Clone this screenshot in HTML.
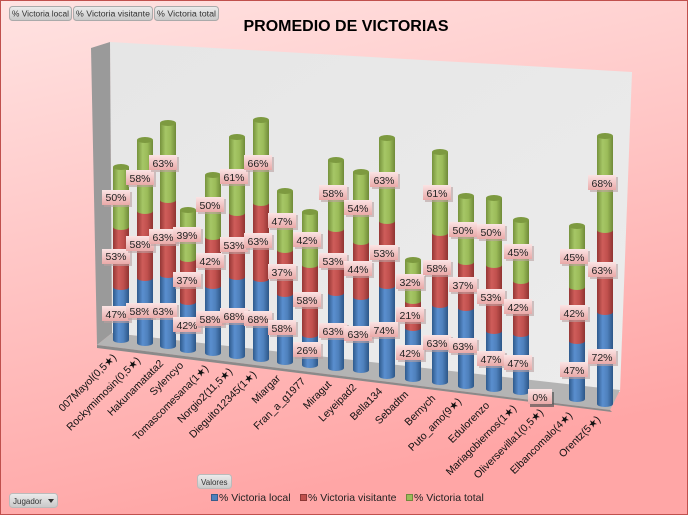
<!DOCTYPE html>
<html><head><meta charset="utf-8"><style>
html,body{margin:0;padding:0}
body{width:688px;height:515px;overflow:hidden;font-family:"Liberation Sans",sans-serif}
</style></head><body>
<svg width="688" height="515" viewBox="0 0 688 515" xmlns="http://www.w3.org/2000/svg" font-family="Liberation Sans, sans-serif">
<defs>
<linearGradient id="bg" x1="0" y1="0" x2="0.3" y2="1"><stop offset="0" stop-color="#ffe3e2"/><stop offset="1" stop-color="#ffa6a6"/></linearGradient>
<linearGradient id="wall" x1="0" y1="0" x2="1" y2="1"><stop offset="0" stop-color="#e6e6e6"/><stop offset="1" stop-color="#ececec"/></linearGradient>
<linearGradient id="gG" x1="0" x2="1"><stop offset="0" stop-color="#76923c"/><stop offset="0.35" stop-color="#a6c766"/><stop offset="0.65" stop-color="#9bbb59"/><stop offset="1" stop-color="#6f8a38"/></linearGradient>
<linearGradient id="gR" x1="0" x2="1"><stop offset="0" stop-color="#953735"/><stop offset="0.35" stop-color="#cf5d5a"/><stop offset="0.65" stop-color="#c0504d"/><stop offset="1" stop-color="#8f3432"/></linearGradient>
<linearGradient id="gB" x1="0" x2="1"><stop offset="0" stop-color="#2e5a8c"/><stop offset="0.35" stop-color="#5a8fcf"/><stop offset="0.65" stop-color="#4f81bd"/><stop offset="1" stop-color="#2c5687"/></linearGradient>
<linearGradient id="lab" x1="0" y1="0" x2="0" y2="1"><stop offset="0" stop-color="#fbe4e4"/><stop offset="1" stop-color="#e9a9a8"/></linearGradient>
<linearGradient id="btn" x1="0" y1="0" x2="0" y2="1"><stop offset="0" stop-color="#ececec"/><stop offset="1" stop-color="#c8c8c8"/></linearGradient>
</defs>
<rect x="0.5" y="0.5" width="687" height="514" fill="url(#bg)" stroke="#c0504d"/>
<g font-size="8" fill="#333">
<rect x="9.5" y="6.5" width="62" height="14" rx="3" fill="url(#btn)" stroke="#aaa"/><text x="12" y="16.5" textLength="57" lengthAdjust="spacingAndGlyphs">% Victoria local</text>
<rect x="73.5" y="6.5" width="79" height="14" rx="3" fill="url(#btn)" stroke="#aaa"/><text x="76" y="16.5" textLength="74" lengthAdjust="spacingAndGlyphs">% Victoria visitante</text>
<rect x="154.5" y="6.5" width="64" height="14" rx="3" fill="url(#btn)" stroke="#aaa"/><text x="157" y="16.5" textLength="59" lengthAdjust="spacingAndGlyphs">% Victoria total</text>
<rect x="197.5" y="474.5" width="34" height="14" rx="3" fill="url(#btn)" stroke="#bbb"/><text x="201" y="485">Valores</text>
<rect x="9.5" y="493.5" width="48" height="14" rx="3" fill="url(#btn)" stroke="#bbb"/><text x="13" y="504">Jugador</text>
<path d="M48 499 L54 499 L51 503Z" fill="#333"/>
</g>
<text x="346" y="31" font-size="16" font-weight="bold" text-anchor="middle" fill="#000">PROMEDIO DE VICTORIAS</text>
<polygon points="110,42 632,72 620,392 112,333" fill="url(#wall)"/>
<polygon points="91,48 110,42 112,333 97,345" fill="#9a9a9a"/>
<polygon points="97,345 112,333 620,390 610,410" fill="#b4b4b4"/>
<polygon points="97,345 610,410 612,412 97,348" fill="#8a8a8a"/>
<g id="bars">
<g>
<rect x="113" y="287" width="16" height="53" fill="url(#gB)"/><ellipse cx="121" cy="340" rx="8" ry="3" fill="url(#gB)"/>
<rect x="113" y="227" width="16" height="60" fill="url(#gR)"/><ellipse cx="121" cy="287" rx="8" ry="3" fill="url(#gR)"/>
<rect x="113" y="167" width="16" height="60" fill="url(#gG)"/><ellipse cx="121" cy="227" rx="8" ry="3" fill="url(#gG)"/><ellipse cx="121" cy="167" rx="8" ry="3" fill="#7d9a40"/>
</g>
<g>
<rect x="137" y="278" width="16" height="65" fill="url(#gB)"/><ellipse cx="145" cy="343" rx="8" ry="3" fill="url(#gB)"/>
<rect x="137" y="211" width="16" height="67" fill="url(#gR)"/><ellipse cx="145" cy="278" rx="8" ry="3" fill="url(#gR)"/>
<rect x="137" y="140" width="16" height="71" fill="url(#gG)"/><ellipse cx="145" cy="211" rx="8" ry="3" fill="url(#gG)"/><ellipse cx="145" cy="140" rx="8" ry="3" fill="#7d9a40"/>
</g>
<g>
<rect x="160" y="275" width="16" height="71" fill="url(#gB)"/><ellipse cx="168" cy="346" rx="8" ry="3" fill="url(#gB)"/>
<rect x="160" y="200" width="16" height="75" fill="url(#gR)"/><ellipse cx="168" cy="275" rx="8" ry="3" fill="url(#gR)"/>
<rect x="160" y="123" width="16" height="77" fill="url(#gG)"/><ellipse cx="168" cy="200" rx="8" ry="3" fill="url(#gG)"/><ellipse cx="168" cy="123" rx="8" ry="3" fill="#7d9a40"/>
</g>
<g>
<rect x="180" y="302" width="16" height="48" fill="url(#gB)"/><ellipse cx="188" cy="350" rx="8" ry="3" fill="url(#gB)"/>
<rect x="180" y="259" width="16" height="43" fill="url(#gR)"/><ellipse cx="188" cy="302" rx="8" ry="3" fill="url(#gR)"/>
<rect x="180" y="210" width="16" height="49" fill="url(#gG)"/><ellipse cx="188" cy="259" rx="8" ry="3" fill="url(#gG)"/><ellipse cx="188" cy="210" rx="8" ry="3" fill="#7d9a40"/>
</g>
<g>
<rect x="205" y="286" width="16" height="67" fill="url(#gB)"/><ellipse cx="213" cy="353" rx="8" ry="3" fill="url(#gB)"/>
<rect x="205" y="237" width="16" height="49" fill="url(#gR)"/><ellipse cx="213" cy="286" rx="8" ry="3" fill="url(#gR)"/>
<rect x="205" y="175" width="16" height="62" fill="url(#gG)"/><ellipse cx="213" cy="237" rx="8" ry="3" fill="url(#gG)"/><ellipse cx="213" cy="175" rx="8" ry="3" fill="#7d9a40"/>
</g>
<g>
<rect x="229" y="277" width="16" height="79" fill="url(#gB)"/><ellipse cx="237" cy="356" rx="8" ry="3" fill="url(#gB)"/>
<rect x="229" y="213" width="16" height="64" fill="url(#gR)"/><ellipse cx="237" cy="277" rx="8" ry="3" fill="url(#gR)"/>
<rect x="229" y="137" width="16" height="76" fill="url(#gG)"/><ellipse cx="237" cy="213" rx="8" ry="3" fill="url(#gG)"/><ellipse cx="237" cy="137" rx="8" ry="3" fill="#7d9a40"/>
</g>
<g>
<rect x="253" y="279" width="16" height="80" fill="url(#gB)"/><ellipse cx="261" cy="359" rx="8" ry="3" fill="url(#gB)"/>
<rect x="253" y="203" width="16" height="76" fill="url(#gR)"/><ellipse cx="261" cy="279" rx="8" ry="3" fill="url(#gR)"/>
<rect x="253" y="120" width="16" height="83" fill="url(#gG)"/><ellipse cx="261" cy="203" rx="8" ry="3" fill="url(#gG)"/><ellipse cx="261" cy="120" rx="8" ry="3" fill="#7d9a40"/>
</g>
<g>
<rect x="277" y="294" width="16" height="68" fill="url(#gB)"/><ellipse cx="285" cy="362" rx="8" ry="3" fill="url(#gB)"/>
<rect x="277" y="250" width="16" height="44" fill="url(#gR)"/><ellipse cx="285" cy="294" rx="8" ry="3" fill="url(#gR)"/>
<rect x="277" y="191" width="16" height="59" fill="url(#gG)"/><ellipse cx="285" cy="250" rx="8" ry="3" fill="url(#gG)"/><ellipse cx="285" cy="191" rx="8" ry="3" fill="#7d9a40"/>
</g>
<g>
<rect x="302" y="335" width="16" height="30" fill="url(#gB)"/><ellipse cx="310" cy="365" rx="8" ry="3" fill="url(#gB)"/>
<rect x="302" y="265" width="16" height="70" fill="url(#gR)"/><ellipse cx="310" cy="335" rx="8" ry="3" fill="url(#gR)"/>
<rect x="302" y="212" width="16" height="53" fill="url(#gG)"/><ellipse cx="310" cy="265" rx="8" ry="3" fill="url(#gG)"/><ellipse cx="310" cy="212" rx="8" ry="3" fill="#7d9a40"/>
</g>
<g>
<rect x="328" y="293" width="16" height="75" fill="url(#gB)"/><ellipse cx="336" cy="368" rx="8" ry="3" fill="url(#gB)"/>
<rect x="328" y="229" width="16" height="64" fill="url(#gR)"/><ellipse cx="336" cy="293" rx="8" ry="3" fill="url(#gR)"/>
<rect x="328" y="160" width="16" height="69" fill="url(#gG)"/><ellipse cx="336" cy="229" rx="8" ry="3" fill="url(#gG)"/><ellipse cx="336" cy="160" rx="8" ry="3" fill="#7d9a40"/>
</g>
<g>
<rect x="353" y="297" width="16" height="73" fill="url(#gB)"/><ellipse cx="361" cy="370" rx="8" ry="3" fill="url(#gB)"/>
<rect x="353" y="242" width="16" height="55" fill="url(#gR)"/><ellipse cx="361" cy="297" rx="8" ry="3" fill="url(#gR)"/>
<rect x="353" y="172" width="16" height="70" fill="url(#gG)"/><ellipse cx="361" cy="242" rx="8" ry="3" fill="url(#gG)"/><ellipse cx="361" cy="172" rx="8" ry="3" fill="#7d9a40"/>
</g>
<g>
<rect x="379" y="286" width="16" height="90" fill="url(#gB)"/><ellipse cx="387" cy="376" rx="8" ry="3" fill="url(#gB)"/>
<rect x="379" y="221" width="16" height="65" fill="url(#gR)"/><ellipse cx="387" cy="286" rx="8" ry="3" fill="url(#gR)"/>
<rect x="379" y="138" width="16" height="83" fill="url(#gG)"/><ellipse cx="387" cy="221" rx="8" ry="3" fill="url(#gG)"/><ellipse cx="387" cy="138" rx="8" ry="3" fill="#7d9a40"/>
</g>
<g>
<rect x="405" y="328" width="16" height="51" fill="url(#gB)"/><ellipse cx="413" cy="379" rx="8" ry="3" fill="url(#gB)"/>
<rect x="405" y="301" width="16" height="27" fill="url(#gR)"/><ellipse cx="413" cy="328" rx="8" ry="3" fill="url(#gR)"/>
<rect x="405" y="260" width="16" height="41" fill="url(#gG)"/><ellipse cx="413" cy="301" rx="8" ry="3" fill="url(#gG)"/><ellipse cx="413" cy="260" rx="8" ry="3" fill="#7d9a40"/>
</g>
<g>
<rect x="432" y="305" width="16" height="77" fill="url(#gB)"/><ellipse cx="440" cy="382" rx="8" ry="3" fill="url(#gB)"/>
<rect x="432" y="233" width="16" height="72" fill="url(#gR)"/><ellipse cx="440" cy="305" rx="8" ry="3" fill="url(#gR)"/>
<rect x="432" y="152" width="16" height="81" fill="url(#gG)"/><ellipse cx="440" cy="233" rx="8" ry="3" fill="url(#gG)"/><ellipse cx="440" cy="152" rx="8" ry="3" fill="#7d9a40"/>
</g>
<g>
<rect x="458" y="308" width="16" height="78" fill="url(#gB)"/><ellipse cx="466" cy="386" rx="8" ry="3" fill="url(#gB)"/>
<rect x="458" y="262" width="16" height="46" fill="url(#gR)"/><ellipse cx="466" cy="308" rx="8" ry="3" fill="url(#gR)"/>
<rect x="458" y="196" width="16" height="66" fill="url(#gG)"/><ellipse cx="466" cy="262" rx="8" ry="3" fill="url(#gG)"/><ellipse cx="466" cy="196" rx="8" ry="3" fill="#7d9a40"/>
</g>
<g>
<rect x="486" y="331" width="16" height="58" fill="url(#gB)"/><ellipse cx="494" cy="389" rx="8" ry="3" fill="url(#gB)"/>
<rect x="486" y="265" width="16" height="66" fill="url(#gR)"/><ellipse cx="494" cy="331" rx="8" ry="3" fill="url(#gR)"/>
<rect x="486" y="198" width="16" height="67" fill="url(#gG)"/><ellipse cx="494" cy="265" rx="8" ry="3" fill="url(#gG)"/><ellipse cx="494" cy="198" rx="8" ry="3" fill="#7d9a40"/>
</g>
<g>
<rect x="513" y="334" width="16" height="58" fill="url(#gB)"/><ellipse cx="521" cy="392" rx="8" ry="3" fill="url(#gB)"/>
<rect x="513" y="281" width="16" height="53" fill="url(#gR)"/><ellipse cx="521" cy="334" rx="8" ry="3" fill="url(#gR)"/>
<rect x="513" y="220" width="16" height="61" fill="url(#gG)"/><ellipse cx="521" cy="281" rx="8" ry="3" fill="url(#gG)"/><ellipse cx="521" cy="220" rx="8" ry="3" fill="#7d9a40"/>
</g>
<g>
<rect x="569" y="341" width="16" height="58" fill="url(#gB)"/><ellipse cx="577" cy="399" rx="8" ry="3" fill="url(#gB)"/>
<rect x="569" y="287" width="16" height="54" fill="url(#gR)"/><ellipse cx="577" cy="341" rx="8" ry="3" fill="url(#gR)"/>
<rect x="569" y="226" width="16" height="61" fill="url(#gG)"/><ellipse cx="577" cy="287" rx="8" ry="3" fill="url(#gG)"/><ellipse cx="577" cy="226" rx="8" ry="3" fill="#7d9a40"/>
</g>
<g>
<rect x="597" y="312" width="16" height="92" fill="url(#gB)"/><ellipse cx="605" cy="404" rx="8" ry="3" fill="url(#gB)"/>
<rect x="597" y="230" width="16" height="82" fill="url(#gR)"/><ellipse cx="605" cy="312" rx="8" ry="3" fill="url(#gR)"/>
<rect x="597" y="136" width="16" height="94" fill="url(#gG)"/><ellipse cx="605" cy="230" rx="8" ry="3" fill="url(#gG)"/><ellipse cx="605" cy="136" rx="8" ry="3" fill="#7d9a40"/>
</g>
</g>
<g font-size="10.5" fill="#222" text-anchor="middle">
<g><rect x="104" y="192" width="28" height="15" fill="#b9a0a0" opacity=".6"/><rect x="102" y="190" width="28" height="15" fill="url(#lab)"/><text x="116" y="201">50%</text></g>
<g><rect x="104" y="251" width="28" height="15" fill="#b9a0a0" opacity=".6"/><rect x="102" y="249" width="28" height="15" fill="url(#lab)"/><text x="116" y="260">53%</text></g>
<g><rect x="104" y="308" width="28" height="15" fill="#b9a0a0" opacity=".6"/><rect x="102" y="306" width="28" height="15" fill="url(#lab)"/><text x="116" y="318">47%</text></g>

<g><rect x="128" y="172" width="28" height="15" fill="#b9a0a0" opacity=".6"/><rect x="126" y="170" width="28" height="15" fill="url(#lab)"/><text x="140" y="182">58%</text></g>
<g><rect x="128" y="238" width="28" height="15" fill="#b9a0a0" opacity=".6"/><rect x="126" y="236" width="28" height="15" fill="url(#lab)"/><text x="140" y="248">58%</text></g>
<g><rect x="128" y="305" width="28" height="15" fill="#b9a0a0" opacity=".6"/><rect x="126" y="303" width="28" height="15" fill="url(#lab)"/><text x="140" y="315">58%</text></g>

<g><rect x="151" y="157" width="28" height="15" fill="#b9a0a0" opacity=".6"/><rect x="149" y="155" width="28" height="15" fill="url(#lab)"/><text x="163" y="167">63%</text></g>
<g><rect x="151" y="231" width="28" height="15" fill="#b9a0a0" opacity=".6"/><rect x="149" y="229" width="28" height="15" fill="url(#lab)"/><text x="163" y="241">63%</text></g>
<g><rect x="151" y="305" width="28" height="15" fill="#b9a0a0" opacity=".6"/><rect x="149" y="303" width="28" height="15" fill="url(#lab)"/><text x="163" y="315">63%</text></g>

<g><rect x="175" y="229" width="28" height="15" fill="#b9a0a0" opacity=".6"/><rect x="173" y="227" width="28" height="15" fill="url(#lab)"/><text x="187" y="239">39%</text></g>
<g><rect x="175" y="274" width="28" height="15" fill="#b9a0a0" opacity=".6"/><rect x="173" y="272" width="28" height="15" fill="url(#lab)"/><text x="187" y="284">37%</text></g>
<g><rect x="175" y="319" width="28" height="15" fill="#b9a0a0" opacity=".6"/><rect x="173" y="317" width="28" height="15" fill="url(#lab)"/><text x="187" y="329">42%</text></g>

<g><rect x="198" y="199" width="28" height="15" fill="#b9a0a0" opacity=".6"/><rect x="196" y="197" width="28" height="15" fill="url(#lab)"/><text x="210" y="209">50%</text></g>
<g><rect x="198" y="255" width="28" height="15" fill="#b9a0a0" opacity=".6"/><rect x="196" y="253" width="28" height="15" fill="url(#lab)"/><text x="210" y="265">42%</text></g>
<g><rect x="198" y="313" width="28" height="15" fill="#b9a0a0" opacity=".6"/><rect x="196" y="311" width="28" height="15" fill="url(#lab)"/><text x="210" y="323">58%</text></g>

<g><rect x="222" y="171" width="28" height="15" fill="#b9a0a0" opacity=".6"/><rect x="220" y="169" width="28" height="15" fill="url(#lab)"/><text x="234" y="181">61%</text></g>
<g><rect x="222" y="239" width="28" height="15" fill="#b9a0a0" opacity=".6"/><rect x="220" y="237" width="28" height="15" fill="url(#lab)"/><text x="234" y="249">53%</text></g>
<g><rect x="222" y="310" width="28" height="15" fill="#b9a0a0" opacity=".6"/><rect x="220" y="308" width="28" height="15" fill="url(#lab)"/><text x="234" y="320">68%</text></g>

<g><rect x="246" y="157" width="28" height="15" fill="#b9a0a0" opacity=".6"/><rect x="244" y="155" width="28" height="15" fill="url(#lab)"/><text x="258" y="167">66%</text></g>
<g><rect x="246" y="235" width="28" height="15" fill="#b9a0a0" opacity=".6"/><rect x="244" y="233" width="28" height="15" fill="url(#lab)"/><text x="258" y="245">63%</text></g>
<g><rect x="246" y="313" width="28" height="15" fill="#b9a0a0" opacity=".6"/><rect x="244" y="311" width="28" height="15" fill="url(#lab)"/><text x="258" y="323">68%</text></g>

<g><rect x="270" y="215" width="28" height="15" fill="#b9a0a0" opacity=".6"/><rect x="268" y="213" width="28" height="15" fill="url(#lab)"/><text x="282" y="225">47%</text></g>
<g><rect x="270" y="266" width="28" height="15" fill="#b9a0a0" opacity=".6"/><rect x="268" y="264" width="28" height="15" fill="url(#lab)"/><text x="282" y="276">37%</text></g>
<g><rect x="270" y="322" width="28" height="15" fill="#b9a0a0" opacity=".6"/><rect x="268" y="320" width="28" height="15" fill="url(#lab)"/><text x="282" y="332">58%</text></g>

<g><rect x="295" y="234" width="28" height="15" fill="#b9a0a0" opacity=".6"/><rect x="293" y="232" width="28" height="15" fill="url(#lab)"/><text x="307" y="244">42%</text></g>
<g><rect x="295" y="294" width="28" height="15" fill="#b9a0a0" opacity=".6"/><rect x="293" y="292" width="28" height="15" fill="url(#lab)"/><text x="307" y="304">58%</text></g>
<g><rect x="295" y="344" width="28" height="15" fill="#b9a0a0" opacity=".6"/><rect x="293" y="342" width="28" height="15" fill="url(#lab)"/><text x="307" y="354">26%</text></g>

<g><rect x="321" y="187" width="28" height="15" fill="#b9a0a0" opacity=".6"/><rect x="319" y="185" width="28" height="15" fill="url(#lab)"/><text x="333" y="197">58%</text></g>
<g><rect x="321" y="255" width="28" height="15" fill="#b9a0a0" opacity=".6"/><rect x="319" y="253" width="28" height="15" fill="url(#lab)"/><text x="333" y="265">53%</text></g>
<g><rect x="321" y="325" width="28" height="15" fill="#b9a0a0" opacity=".6"/><rect x="319" y="323" width="28" height="15" fill="url(#lab)"/><text x="333" y="335">63%</text></g>

<g><rect x="346" y="202" width="28" height="15" fill="#b9a0a0" opacity=".6"/><rect x="344" y="200" width="28" height="15" fill="url(#lab)"/><text x="358" y="212">54%</text></g>
<g><rect x="346" y="263" width="28" height="15" fill="#b9a0a0" opacity=".6"/><rect x="344" y="261" width="28" height="15" fill="url(#lab)"/><text x="358" y="273">44%</text></g>
<g><rect x="346" y="328" width="28" height="15" fill="#b9a0a0" opacity=".6"/><rect x="344" y="326" width="28" height="15" fill="url(#lab)"/><text x="358" y="338">63%</text></g>

<g><rect x="372" y="174" width="28" height="15" fill="#b9a0a0" opacity=".6"/><rect x="370" y="172" width="28" height="15" fill="url(#lab)"/><text x="384" y="184">63%</text></g>
<g><rect x="372" y="247" width="28" height="15" fill="#b9a0a0" opacity=".6"/><rect x="370" y="245" width="28" height="15" fill="url(#lab)"/><text x="384" y="257">53%</text></g>
<g><rect x="372" y="324" width="28" height="15" fill="#b9a0a0" opacity=".6"/><rect x="370" y="322" width="28" height="15" fill="url(#lab)"/><text x="384" y="334">74%</text></g>

<g><rect x="398" y="276" width="28" height="15" fill="#b9a0a0" opacity=".6"/><rect x="396" y="274" width="28" height="15" fill="url(#lab)"/><text x="410" y="286">32%</text></g>
<g><rect x="398" y="309" width="28" height="15" fill="#b9a0a0" opacity=".6"/><rect x="396" y="307" width="28" height="15" fill="url(#lab)"/><text x="410" y="319">21%</text></g>
<g><rect x="398" y="347" width="28" height="15" fill="#b9a0a0" opacity=".6"/><rect x="396" y="345" width="28" height="15" fill="url(#lab)"/><text x="410" y="357">42%</text></g>

<g><rect x="425" y="187" width="28" height="15" fill="#b9a0a0" opacity=".6"/><rect x="423" y="185" width="28" height="15" fill="url(#lab)"/><text x="437" y="197">61%</text></g>
<g><rect x="425" y="262" width="28" height="15" fill="#b9a0a0" opacity=".6"/><rect x="423" y="260" width="28" height="15" fill="url(#lab)"/><text x="437" y="272">58%</text></g>
<g><rect x="425" y="337" width="28" height="15" fill="#b9a0a0" opacity=".6"/><rect x="423" y="335" width="28" height="15" fill="url(#lab)"/><text x="437" y="347">63%</text></g>

<g><rect x="451" y="224" width="28" height="15" fill="#b9a0a0" opacity=".6"/><rect x="449" y="222" width="28" height="15" fill="url(#lab)"/><text x="463" y="234">50%</text></g>
<g><rect x="451" y="279" width="28" height="15" fill="#b9a0a0" opacity=".6"/><rect x="449" y="277" width="28" height="15" fill="url(#lab)"/><text x="463" y="289">37%</text></g>
<g><rect x="451" y="340" width="28" height="15" fill="#b9a0a0" opacity=".6"/><rect x="449" y="338" width="28" height="15" fill="url(#lab)"/><text x="463" y="350">63%</text></g>

<g><rect x="479" y="226" width="28" height="15" fill="#b9a0a0" opacity=".6"/><rect x="477" y="224" width="28" height="15" fill="url(#lab)"/><text x="491" y="236">50%</text></g>
<g><rect x="479" y="291" width="28" height="15" fill="#b9a0a0" opacity=".6"/><rect x="477" y="289" width="28" height="15" fill="url(#lab)"/><text x="491" y="301">53%</text></g>
<g><rect x="479" y="353" width="28" height="15" fill="#b9a0a0" opacity=".6"/><rect x="477" y="351" width="28" height="15" fill="url(#lab)"/><text x="491" y="363">47%</text></g>

<g><rect x="506" y="246" width="28" height="15" fill="#b9a0a0" opacity=".6"/><rect x="504" y="244" width="28" height="15" fill="url(#lab)"/><text x="518" y="256">45%</text></g>
<g><rect x="506" y="301" width="28" height="15" fill="#b9a0a0" opacity=".6"/><rect x="504" y="299" width="28" height="15" fill="url(#lab)"/><text x="518" y="311">42%</text></g>
<g><rect x="506" y="357" width="28" height="15" fill="#b9a0a0" opacity=".6"/><rect x="504" y="355" width="28" height="15" fill="url(#lab)"/><text x="518" y="367">47%</text></g>

<g><rect x="530" y="392" width="24" height="15" fill="#555" opacity=".7"/><rect x="528" y="389" width="24" height="15" fill="url(#lab)"/><text x="540" y="401">0%</text></g>

<g><rect x="562" y="251" width="28" height="15" fill="#b9a0a0" opacity=".6"/><rect x="560" y="249" width="28" height="15" fill="url(#lab)"/><text x="574" y="261">45%</text></g>
<g><rect x="562" y="307" width="28" height="15" fill="#b9a0a0" opacity=".6"/><rect x="560" y="305" width="28" height="15" fill="url(#lab)"/><text x="574" y="317">42%</text></g>
<g><rect x="562" y="364" width="28" height="15" fill="#b9a0a0" opacity=".6"/><rect x="560" y="362" width="28" height="15" fill="url(#lab)"/><text x="574" y="374">47%</text></g>

<g><rect x="590" y="177" width="28" height="15" fill="#b9a0a0" opacity=".6"/><rect x="588" y="175" width="28" height="15" fill="url(#lab)"/><text x="602" y="187">68%</text></g>
<g><rect x="590" y="264" width="28" height="15" fill="#b9a0a0" opacity=".6"/><rect x="588" y="262" width="28" height="15" fill="url(#lab)"/><text x="602" y="274">63%</text></g>
<g><rect x="590" y="351" width="28" height="15" fill="#b9a0a0" opacity=".6"/><rect x="588" y="349" width="28" height="15" fill="url(#lab)"/><text x="602" y="361">72%</text></g>
</g>
<g font-size="10.5" fill="#111" text-anchor="end">
<text transform="translate(117,358) rotate(-45)">007Mayol(0,5★)</text>
<text transform="translate(141,361) rotate(-45)">Rockymimosin(0,5★)</text>
<text transform="translate(164,364) rotate(-45)">Hakunamatata2</text>
<text transform="translate(184,366) rotate(-45)">Sylencyo</text>
<text transform="translate(209,369) rotate(-45)">Tomascomesana(1★)</text>
<text transform="translate(233,372) rotate(-45)">Norgio2(11,5★)</text>
<text transform="translate(257,375) rotate(-45)">Dieguito12345(1★)</text>
<text transform="translate(281,379) rotate(-45)">Miargar</text>
<text transform="translate(306,382) rotate(-45)">Fran_a_g1977</text>
<text transform="translate(332,385) rotate(-45)">Miragut</text>
<text transform="translate(357,388) rotate(-45)">Leyeipad2</text>
<text transform="translate(383,392) rotate(-45)">Bella134</text>
<text transform="translate(409,395) rotate(-45)">Sebadtm</text>
<text transform="translate(436,399) rotate(-45)">Bernych</text>
<text transform="translate(462,402) rotate(-45)">Puto_amo(9★)</text>
<text transform="translate(490,406) rotate(-45)">Edulorenzo</text>
<text transform="translate(517,409) rotate(-45)">Mariagobiernos(1★)</text>
<text transform="translate(544,413) rotate(-45)">Oliversevilla1(0,5★)</text>
<text transform="translate(573,416) rotate(-45)">Elbancomalo(4★)</text>
<text transform="translate(601,420) rotate(-45)">Orentz(5★)</text>
</g>
<g font-size="10.5" fill="#222">
<rect x="211.5" y="494.5" width="6" height="6" fill="#4f81bd" stroke="#385d8a"/><text x="219" y="501">% Victoria local</text>
<rect x="300.5" y="494.5" width="6" height="6" fill="#c0504d" stroke="#8c3836"/><text x="308" y="501">% Victoria visitante</text>
<rect x="406.5" y="494.5" width="6" height="6" fill="#9bbb59" stroke="#71893f"/><text x="414" y="501">% Victoria total</text>
</g>
</svg>
</body></html>
